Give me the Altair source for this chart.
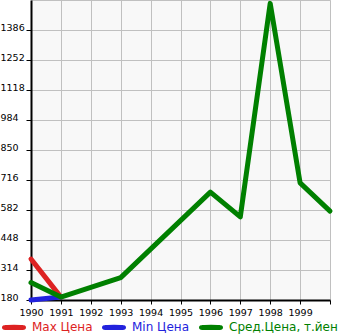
import altair as alt
import pandas as pd

series = ["Max Цена", "Min Цена", "Сред.Цена, т.йен"]
colors = ["#dd2222", "#2222dd", "#008000"]

years_max = [1990, 1991]
vals_max = [363, 193]
years_min = [1990, 1991]
vals_min = [180, 193]
years_avg = [1990, 1991, 1993, 1996, 1997, 1998, 1999, 2000]
vals_avg = [258, 193, 280, 662, 551, 1505, 703, 577]

y_ticks = [180, 314, 448, 582, 716, 850, 984, 1118, 1252, 1386]
x_ticks = list(range(1990, 2001))

rows = []
for s, ys, vs in [(series[0], years_max, vals_max),
                  (series[1], years_min, vals_min),
                  (series[2], years_avg, vals_avg)]:
    for yr, v in zip(ys, vs):
        rows.append({"series": s, "year": yr, "value": v})
df = pd.DataFrame(rows)

x = alt.X("year:Q",
          scale=alt.Scale(domain=[1990, 2000], nice=False, zero=False),
          axis=alt.Axis(values=x_ticks, format="d", title=None,
                        labelExpr="datum.value == 2000 ? '' : datum.label",
                        tickSize=4, labelPadding=3, labelFlush=False,
                        labelOverlap=False))
y = alt.Y("value:Q",
          scale=alt.Scale(domain=[180, 1520], nice=False, zero=False),
          axis=alt.Axis(values=y_ticks, format="d", title=None, labelAlign="left",
                        labelBaseline="alphabetic", tickSize=5,
                        labelPadding=26, labelOverlap=False))

label_color_expr = ("datum.value == '" + series[0] + "' ? '" + colors[0] + "' : "
                    "datum.value == '" + series[1] + "' ? '" + colors[1] + "' : '" + colors[2] + "'")

capsule = "M-1,0 A1,0.01 0 1 1 1,0 A1,0.01 0 1 1 -1,0 Z"

color = alt.Color("series:N",
                  scale=alt.Scale(domain=series, range=colors),
                  legend=alt.Legend(orient="none", legendX=-29, legendY=315,
                                    direction="horizontal", title=None,
                                    symbolType=capsule, symbolSize=361,
                                    symbolStrokeWidth=5, labelFontSize=12,
                                    labelFont="DejaVu Sans", labelOffset=6,
                                    columnPadding=1, padding=0,
                                    labelColor={"expr": label_color_expr}))

base = alt.Chart(df)
layers = []
for s in series:
    layers.append(
        base.transform_filter(alt.datum.series == s)
        .mark_line(strokeWidth=5, strokeJoin="round", strokeCap="round")
        .encode(x=x, y=y, color=color)
    )

chart = alt.layer(*layers).properties(
    width=299, height=300,
    autosize=alt.AutoSizeParams(type="none"),
    padding={"left": 31, "top": 0, "right": 15, "bottom": 35},
).configure_view(
    fill="#f8f8f8", stroke="#c0c0c0"
).configure_axis(
    gridColor="#c0c0c0", gridWidth=1, domainColor="black", domainWidth=2,
    tickColor="black", tickWidth=1, labelFont="DejaVu Sans", labelFontSize=9.5,
    labelColor="black"
)

chart.save("out.html", embed_options={"renderer": "svg", "actions": False})
